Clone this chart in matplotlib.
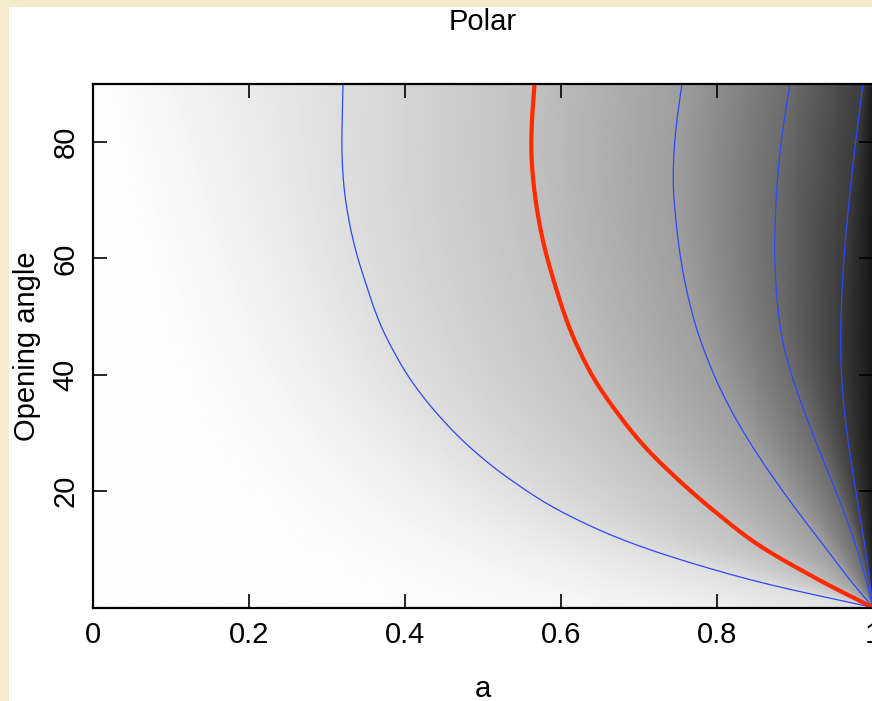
import matplotlib
matplotlib.use("Agg")
import matplotlib.pyplot as plt
from matplotlib.patches import Rectangle
import numpy as np

plt.rcParams['font.family'] = ['Liberation Sans', 'DejaVu Sans']

# opening angle (deg) at which the contour positions were read
angles = [90, 84.2, 78.5, 72.7, 67.0, 61.3, 55.6, 49.8, 44.9, 39.2, 33.5,
          27.7, 22.0, 16.3, 10.6, 4.8, 0]

# spin a of each contour at those angles
cont1 = [0.3205, 0.3195, 0.3192, 0.3215, 0.3275, 0.337, 0.350, 0.365, 0.382, 0.407,
         0.440, 0.482, 0.535, 0.603, 0.700, 0.842, 1.0]
cont_red = [0.566, 0.563, 0.562, 0.565, 0.571, 0.580, 0.592, 0.606, 0.621, 0.643,
            0.672, 0.707, 0.750, 0.799, 0.855, 0.930, 1.0]
cont3 = [0.755, 0.749, 0.745, 0.744, 0.747, 0.752, 0.7594, 0.7698, 0.7816, 0.7987,
         0.8198, 0.8453, 0.8738, 0.9046, 0.9371, 0.9702, 1.0]
cont4 = [0.8935, 0.8865, 0.881, 0.877, 0.8748, 0.874, 0.8755, 0.8795, 0.8858, 0.8975,
         0.9125, 0.929, 0.9465, 0.963, 0.978, 0.991, 1.0]
cont5 = [0.987, 0.9815, 0.9763, 0.9715, 0.9672, 0.9635, 0.9607, 0.959, 0.9585, 0.960,
         0.9635, 0.969, 0.9755, 0.9825, 0.9895, 0.9955, 1.0]

# grey level (0-255) of the shading at a=0, on each contour, and at a=1
grey_levels = [254, 222, 192, 158, 108, 60, 22]

xticks = [0, 0.2, 0.4, 0.6, 0.8, 1]
xticklabels = ["0", "0.2", "0.4", "0.6", "0.8", "1"]
yticks = [20, 40, 60, 80]


def smooth(xs, ys, n=12):
    # Catmull-Rom curve through the read points, in axes-fraction space
    p = np.column_stack([np.asarray(xs), np.asarray(ys) / 90.0])
    p = np.vstack([2 * p[0] - p[1], p, 2 * p[-1] - p[-2]])
    out = []
    for i in range(1, len(p) - 2):
        p0, p1, p2, p3 = p[i - 1], p[i], p[i + 1], p[i + 2]
        for t in np.linspace(0, 1, n, endpoint=False):
            out.append(0.5 * (2 * p1 + (-p0 + p2) * t
                              + (2 * p0 - 5 * p1 + 4 * p2 - p3) * t ** 2
                              + (-p0 + 3 * p1 - 3 * p2 + p3) * t ** 3))
    out.append(p[-2])
    out = np.array(out)
    return out[:, 0], out[:, 1] * 90.0


# shading image: grey constant along the contours, varying in a between them
th = np.linspace(0, 90, 361)
av = np.linspace(0, 1, 801)
ang_r = angles[::-1]
curves = [cont1, cont_red, cont3, cont4, cont5]
img = np.zeros((len(th), len(av)))
for i, t in enumerate(th):
    nodes = [0.0] + [np.interp(t, ang_r, c[::-1]) for c in curves] + [1.0]
    nodes = np.maximum.accumulate(np.array(nodes))
    row = np.interp(av, nodes, grey_levels)
    # lighter toward the bottom-left, left of the first contour
    inner = av < nodes[1]
    frac = av[inner] / nodes[1]
    power = 1 + 2 * (1 - t / 90.0)
    row[inner] = grey_levels[0] - (grey_levels[0] - grey_levels[1]) * frac ** power
    img[i] = row

fig = plt.figure(figsize=(8.72, 7.01), dpi=100)
fig.patch.set_facecolor('#f4eacc')
fig.patches.append(Rectangle((9 / 872, 0), 1, 1 - 7 / 701, transform=fig.transFigure,
                             facecolor='white', edgecolor='none', zorder=-1))

ax = fig.add_axes([93 / 872, 1 - 607.5 / 701, 780 / 872, 523.5 / 701])
ax.imshow(img, extent=[0, 1, 0, 90], origin='lower', cmap='gray', vmin=0, vmax=255,
          aspect='auto', interpolation='bilinear')

blue = '#2a48ff'
for c in [cont1, cont3, cont4, cont5]:
    sx, sy = smooth(c, angles)
    ax.plot(sx, sy, color=blue, lw=0.9)
sx, sy = smooth(cont_red, angles)
ax.plot(sx, sy, color='#ff2a00', lw=3.0)

ax.set_xlim(0, 1)
ax.set_ylim(0, 90)
ax.set_xticks(xticks)
ax.set_xticklabels(xticklabels)
ax.set_yticks(yticks)
ax.set_yticklabels([str(v) for v in yticks], rotation=90, va='center')
ax.tick_params(direction='in', length=10, width=1.2, top=True, right=True,
               labelsize=21, color='black')
ax.tick_params(axis='x', pad=10)
ax.tick_params(axis='y', pad=9.5)
for s in ax.spines.values():
    s.set_linewidth(1.6)

ax.set_xlabel("a", fontsize=21, labelpad=18.5)
ax.set_ylabel("Opening angle", fontsize=21, labelpad=7.5)
ax.set_title("Polar", fontsize=21, pad=39)

fig.savefig("out.png", dpi=100)
